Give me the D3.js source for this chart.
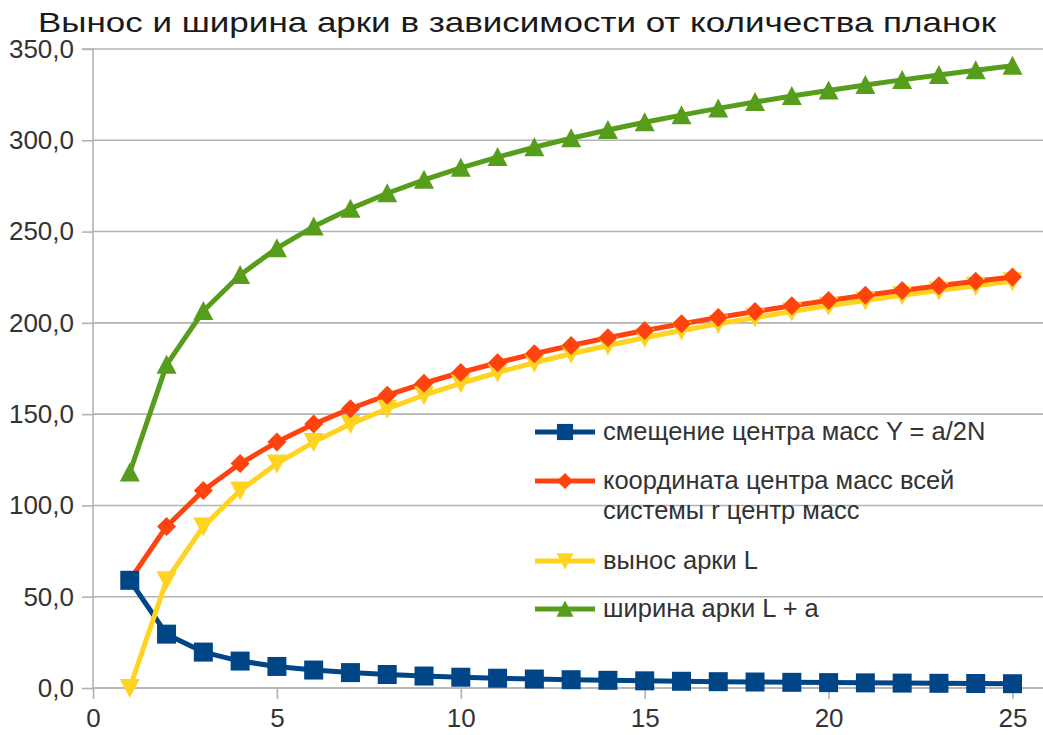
<!DOCTYPE html>
<html>
<head>
<meta charset="utf-8">
<script src="https://cdn.jsdelivr.net/npm/d3@7"></script>
<style>
  html, body { margin: 0; padding: 0; background: #fff; }
  svg { display: block; }
  text { font-family: "Liberation Sans", Arial, sans-serif; }
</style>
</head>
<body>
<svg id="chart" width="1043" height="735"></svg>
<script>
// Number of planks N
const planks = [1,2,3,4,5,6,7,8,9,10,11,12,13,14,15,16,17,18,19,20,21,22,23,24,25];

// Centre-of-mass shift Y = a/2N
const shiftY = [59,29.5,19.67,14.75,11.8,9.83,8.43,7.38,6.56,5.9,5.36,4.92,4.54,4.21,3.93,3.69,3.47,3.28,3.11,2.95,2.81,2.68,2.57,2.46,2.36];
// Centre-of-mass coordinate of the whole system
const centreR = [59,88.5,108.17,122.92,134.72,144.55,152.98,160.35,166.91,172.81,178.17,183.09,187.63,191.84,195.78,199.46,202.93,206.21,209.32,212.27,215.08,217.76,220.32,222.78,225.14];
// Arch overhang L
const overhangL = [0,59,88.5,108.17,122.92,134.72,144.55,152.98,160.35,166.91,172.81,178.17,183.09,187.63,191.84,195.78,199.46,202.93,206.21,209.32,212.27,215.08,217.76,220.32,222.78];
// Arch width L + a
const widthLa = [118,177,206.5,226.17,240.92,252.72,262.55,270.98,278.35,284.91,290.81,296.17,301.09,305.63,309.84,313.78,317.46,320.93,324.21,327.32,330.27,333.08,335.76,338.32,340.78];

const yTicks = [0,50,100,150,200,250,300,350];
const xTicks = [0,5,10,15,20,25];

const titleText = "Вынос и ширина арки в зависимости от количества планок";
const seriesNames = [
  ["смещение центра масс Y = a/2N"],
  ["координата центра масс всей", "системы r центр масс"],
  ["вынос арки L"],
  ["ширина арки L + a"]
];

const series = [
  { name: seriesNames[0], values: shiftY,    color: "#004586", marker: "square"   },
  { name: seriesNames[1], values: centreR,   color: "#ff420e", marker: "diamond"  },
  { name: seriesNames[2], values: overhangL, color: "#ffd320", marker: "triDown"  },
  { name: seriesNames[3], values: widthLa,   color: "#579d1c", marker: "triUp"    }
];

const svg = d3.select("#chart");
const W = 1043, H = 735;
const plot = { left: 93, top: 49, bottom: 688 };

const x = d3.scaleLinear().domain([0, 26]).range([plot.left, plot.left + 26 * 36.78]);
const y = d3.scaleLinear().domain([0, 350]).range([plot.bottom, plot.top]);

const gridColor = "#b3b3b3";
const labelColor = "#333333";

// Title
svg.append("text")
  .attr("x", 517).attr("y", 32)
  .attr("text-anchor", "middle")
  .style("font-family", "'Liberation Sans Narrow', 'Liberation Sans', sans-serif")
  .style("font-size", "28px")
  .attr("fill", "#1a1a1a")
  .attr("textLength", 958)
  .attr("lengthAdjust", "spacingAndGlyphs")
  .text(titleText);

// Horizontal grid lines
svg.append("g")
  .selectAll("line").data(yTicks).join("line")
  .attr("x1", plot.left).attr("x2", W)
  .attr("y1", d => y(d)).attr("y2", d => y(d))
  .attr("stroke", gridColor).attr("stroke-width", 1.6);

// Y axis
const yAxis = svg.append("g")
  .attr("transform", `translate(${plot.left},0)`)
  .call(d3.axisLeft(y).tickValues(yTicks).tickSize(11).tickPadding(8)
    .tickFormat(d => d3.format(".1f")(d).replace(".", ",")));
// X axis
const xAxis = svg.append("g")
  .attr("transform", `translate(0,${plot.bottom})`)
  .call(d3.axisBottom(x).tickValues(xTicks).tickSize(11).tickPadding(10));

[yAxis, xAxis].forEach(g => {
  g.select(".domain").attr("stroke", gridColor).attr("stroke-width", 1.6);
  g.selectAll(".tick line").attr("stroke", gridColor).attr("stroke-width", 1.6);
  g.selectAll(".tick text")
    .attr("fill", labelColor)
    .style("font-family", "'Liberation Sans', sans-serif")
    .style("font-size", "26px");
});
yAxis.select(".domain").attr("d", `M-11,${plot.top}H0V${plot.bottom}`);
xAxis.select(".domain").attr("d", `M${plot.left},0H${W}`);

// Marker shapes
function markerPath(type) {
  switch (type) {
    case "square":  return "M-9.5,-9.5H9.5V9.5H-9.5Z";
    case "diamond": return "M0,-9.5L9.5,0L0,9.5L-9.5,0Z";
    case "triDown": return "M-10,-9L10,-9L0,10Z";
    case "triUp":   return "M0,-10L10,9L-10,9Z";
  }
}

const line = d3.line().x((d, i) => x(planks[i])).y(d => y(d));

const linesG = svg.append("g");
const markersG = svg.append("g");

// Lines, bottom to top
[series[0], series[2], series[1], series[3]].forEach(s => {
  linesG.append("path")
    .attr("d", line(s.values))
    .attr("fill", "none")
    .attr("stroke", s.color)
    .attr("stroke-width", 5)
    .attr("stroke-linejoin", "round");
});

// Markers, bottom to top
[series[2], series[1], series[3], series[0]].forEach(s => {
  markersG.append("g").selectAll("path").data(s.values).join("path")
    .attr("transform", (d, i) => `translate(${x(planks[i])},${y(d)})`)
    .attr("d", markerPath(s.marker))
    .attr("fill", s.color);
});

// Legend
const legendRows = [432, 481, 561, 609];
const legend = svg.append("g");
series.forEach((s, i) => {
  const ry = legendRows[i];
  legend.append("line")
    .attr("x1", 535).attr("x2", 595).attr("y1", ry).attr("y2", ry)
    .attr("stroke", s.color).attr("stroke-width", 5);
  legend.append("path")
    .attr("transform", `translate(565,${ry}) scale(0.85)`)
    .attr("d", markerPath(s.marker))
    .attr("fill", s.color);
  const t = legend.append("text")
    .attr("x", 603).attr("y", ry + 8)
    .attr("fill", labelColor)
    .style("font-size", "25.5px");
  s.name.forEach((ln, j) => {
    t.append("tspan").attr("x", 603).attr("dy", j === 0 ? 0 : 30).text(ln);
  });
});
</script>
</body>
</html>
